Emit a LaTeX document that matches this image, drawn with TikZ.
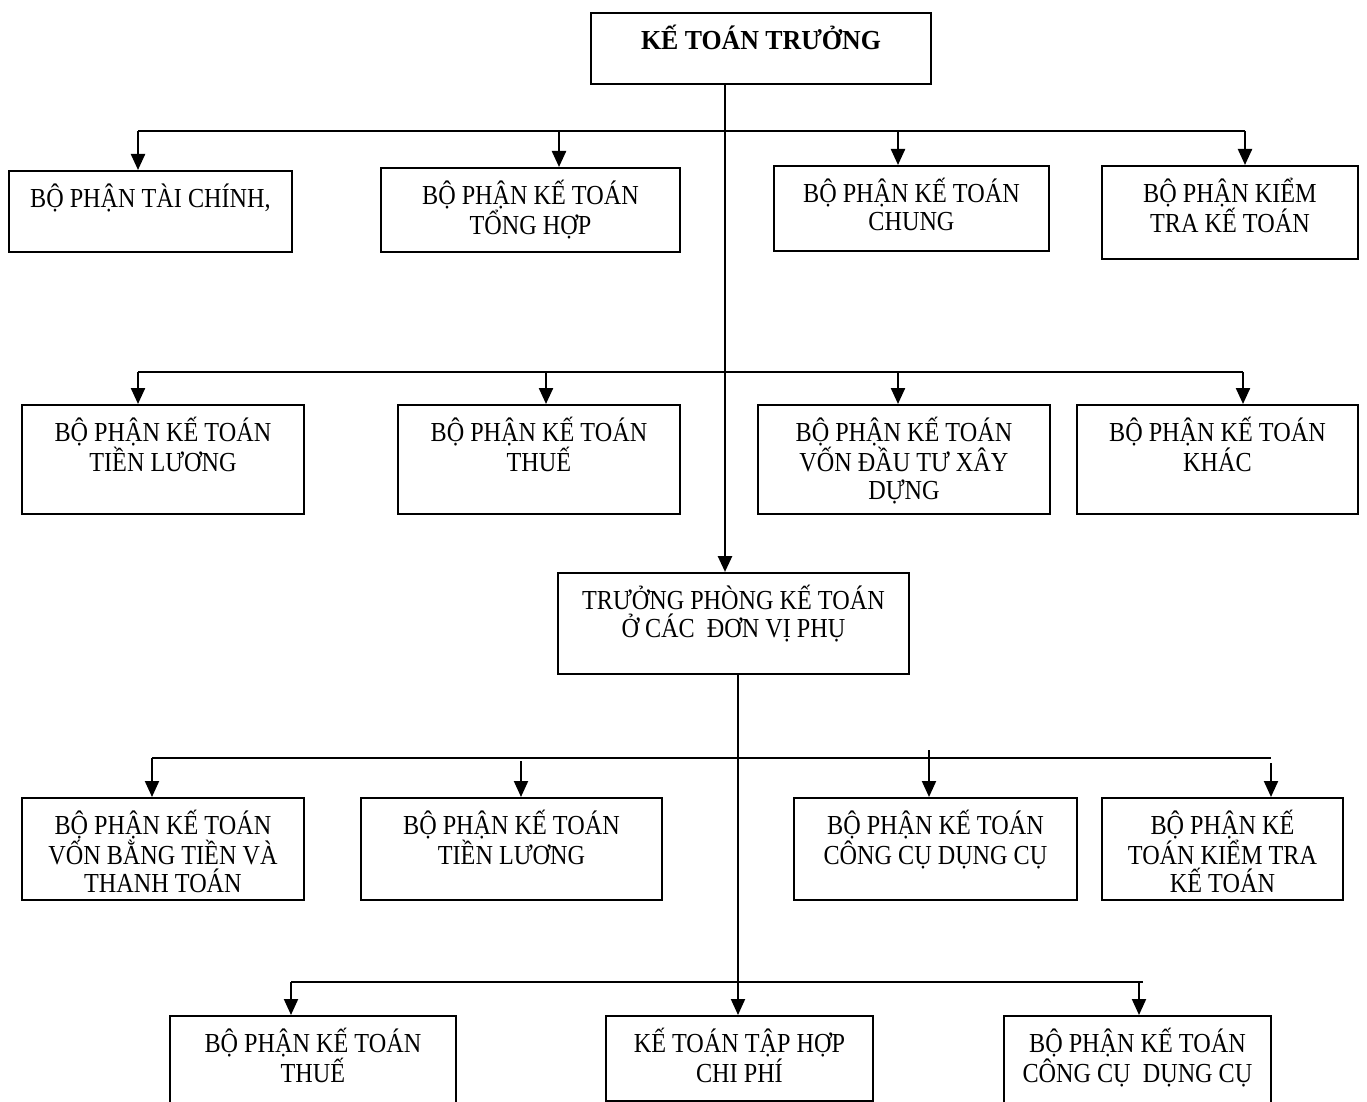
\documentclass[tikz,border=0pt]{standalone}
\usepackage{fontspec}
\newfontfamily\boxfont{Liberation Serif}[FakeStretch=0.88]
\newfontfamily\headfont{Liberation Serif}[FakeStretch=0.94]
\usetikzlibrary{arrows.meta}

% box with top-aligned, centred lines; #1 width, #2 height, #3 lines
\newcommand{\unitbox}[3]{\parbox[t][#2pt][t]{#1pt}{\centering\rule{0pt}{37pt}#3}}

\begin{document}
\begin{tikzpicture}[x=1pt,y=-1pt,
  dept/.style={draw, line width=1.9pt, inner sep=0pt, anchor=north west,
    font=\boxfont\fontsize{27.5}{28}\selectfont},
  head/.style={dept, font=\headfont\bfseries\fontsize{27.5}{28}\selectfont},
  bus/.style={line width=2.3pt},
  feed/.style={line width=2.3pt, -{Triangle[length=16pt,width=14pt]}},
  trunk/.style={line width=2.7pt, -{Triangle[length=16pt,width=14pt]}}]
\clip (0,0) rectangle (1367,1102);
\fill[white] (0,0) rectangle (1367,1102);

% chief accountant
\node[head] (A) at (590,12) {\unitbox{340}{71}{KẾ TOÁN TRƯỞNG}};

% first row of departments
\node[dept] (B1) at (8,170)    {\unitbox{283}{81}{BỘ PHẬN TÀI CHÍNH,}};
\node[dept] (B2) at (380,167)  {\unitbox{299}{84}{BỘ PHẬN KẾ TOÁN\\TỔNG HỢP}};
\node[dept] (B3) at (773,165)  {\unitbox{275}{85}{BỘ PHẬN KẾ TOÁN\\CHUNG}};
\node[dept] (B4) at (1101,165) {\unitbox{256}{93}{BỘ PHẬN KIỂM\\TRA KẾ TOÁN}};

% second row of departments
\node[dept] (C1) at (21,404)   {\unitbox{282}{109}{BỘ PHẬN KẾ TOÁN\\TIỀN LƯƠNG}};
\node[dept] (C2) at (397,404)  {\unitbox{282}{109}{BỘ PHẬN KẾ TOÁN\\THUẾ}};
\node[dept] (C3) at (757,404)  {\unitbox{292}{109}{BỘ PHẬN KẾ TOÁN\\VỐN ĐẦU TƯ XÂY\\DỰNG}};
\node[dept] (C4) at (1076,404) {\unitbox{281}{109}{BỘ PHẬN KẾ TOÁN\\KHÁC}};

% head of accounting at the subsidiary units
\node[dept] (TP) at (557,572)  {\unitbox{351}{101}{TRƯỞNG PHÒNG KẾ TOÁN\\Ở CÁC\ \ ĐƠN VỊ PHỤ}};

% third row
\node[dept] (D1) at (21,797)   {\unitbox{282}{102}{BỘ PHẬN KẾ TOÁN\\VỐN BẰNG TIỀN VÀ\\THANH TOÁN}};
\node[dept] (D2) at (360,797)  {\unitbox{301}{102}{BỘ PHẬN KẾ TOÁN\\TIỀN LƯƠNG}};
\node[dept] (D3) at (793,797)  {\unitbox{283}{102}{BỘ PHẬN KẾ TOÁN\\CÔNG CỤ DỤNG CỤ}};
\node[dept] (D4) at (1101,797) {\unitbox{241}{102}{BỘ PHẬN KẾ\\TOÁN KIỂM TRA\\KẾ TOÁN}};

% fourth row
\node[dept] (E1) at (169,1015) {\unitbox{286}{120}{BỘ PHẬN KẾ TOÁN\\THUẾ}};
\node[dept] (E2) at (605,1015) {\unitbox{267}{85}{KẾ TOÁN TẬP HỢP\\CHI PHÍ}};
\node[dept] (E3) at (1003,1015) {\unitbox{267}{120}{BỘ PHẬN KẾ TOÁN\\CÔNG CỤ\ \ DỤNG CỤ}};

% branch points
\coordinate (t1) at (725,0);
\coordinate (t2) at (738,0);
\coordinate (b1) at (138,131);  \coordinate (b2) at (559,131);
\coordinate (b3) at (898,131);  \coordinate (b4) at (1245,131);
\coordinate (c1) at (138,372);  \coordinate (c2) at (546,372);
\coordinate (c3) at (898,372);  \coordinate (c4) at (1243,372);
\coordinate (d1) at (152,758);  \coordinate (d2) at (521,761);
\coordinate (d3) at (929,750);  \coordinate (d4) at (1271,763);
\coordinate (dend) at (1271,758);
\coordinate (e1) at (291,982);  \coordinate (e3) at (1139,982);
\coordinate (eend) at (1143,982);

% main trunk from the chief accountant
\draw[trunk] (A.south -| t1) -- (TP.north -| t1);

% first row bus
\draw[bus] (b1) -- (b4);
\foreach \p/\n in {b1/B1,b2/B2,b3/B3,b4/B4}
  \draw[feed] (\p) -- (\n.north -| \p);

% second row bus
\draw[bus] (c1) -- (c4);
\foreach \p/\n in {c1/C1,c2/C2,c3/C3,c4/C4}
  \draw[feed] (\p) -- (\n.north -| \p);

% lower trunk from the subsidiary head
\draw[feed, line width=2pt] (TP.south -| t2) -- (E2.north -| t2);

% third row bus
\draw[bus, line width=2pt] (d1) -- (dend);
\foreach \p/\n in {d1/D1,d2/D2,d3/D3,d4/D4}
  \draw[feed, line width=2pt] (\p) -- (\n.north -| \p);

% fourth row bus
\draw[bus, line width=2pt] (e1) -- (eend);
\foreach \p/\n in {e1/E1,e3/E3}
  \draw[feed, line width=2pt] (\p) -- (\n.north -| \p);
\end{tikzpicture}
\end{document}
